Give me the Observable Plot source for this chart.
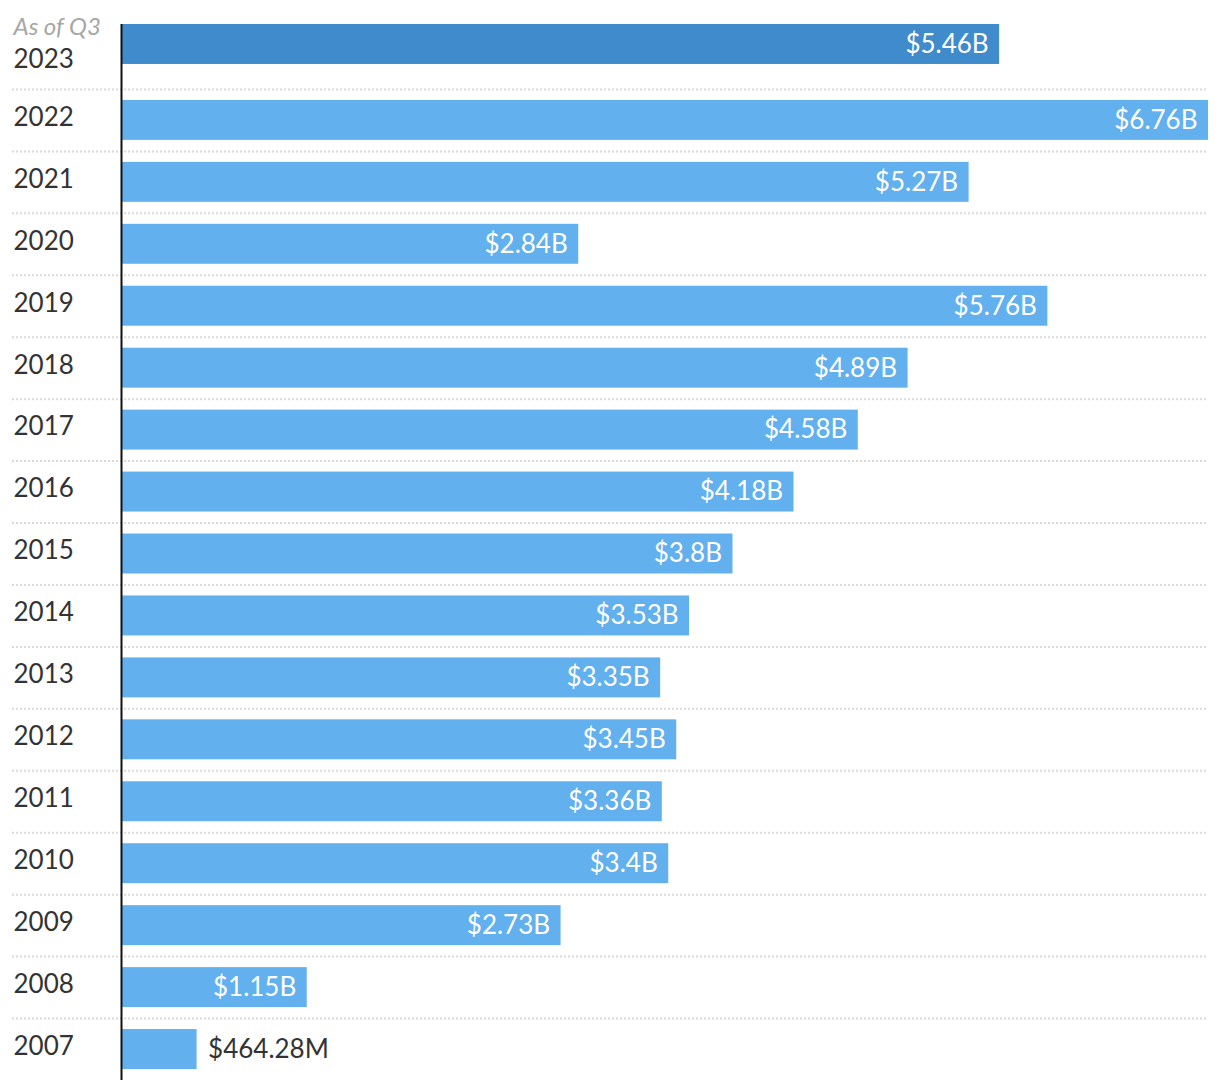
<!DOCTYPE html>
<html>
<head>
<meta charset="utf-8">
<script src="https://cdn.jsdelivr.net/npm/d3@7"></script>
<script src="https://cdn.jsdelivr.net/npm/@observablehq/plot@0.6"></script>
<style>
  html, body { margin: 0; padding: 0; background: #fff; }
  #chart svg { display: block; }
</style>
</head>
<body>
<div id="chart"></div>
<script>
const years = ["2023","2022","2021","2020","2019","2018","2017","2016","2015","2014","2013","2012","2011","2010","2009","2008","2007"];
const values = [5.46, 6.76, 5.27, 2.84, 5.76, 4.89, 4.58, 4.18, 3.8, 3.53, 3.35, 3.45, 3.36, 3.4, 2.73, 1.15, 0.46428];
const labels = ["$5.46B","$6.76B","$5.27B","$2.84B","$5.76B","$4.89B","$4.58B","$4.18B","$3.8B","$3.53B","$3.35B","$3.45B","$3.36B","$3.4B","$2.73B","$1.15B","$464.28M"];
const partialYear = "2023";
const partialNote = "As of Q3";

const data = years.map((y, i) => ({year: y, value: values[i], label: labels[i]}));
const current = data.filter(d => d.year === partialYear);
const past = data.filter(d => d.year !== partialYear);
const pastInside = past.filter(d => d.value >= 1);
const pastOutside = past.filter(d => d.value < 1);

const FONT = "Lato, 'Open Sans', sans-serif";
const step = (1080 - 27) / years.length;

const chart = Plot.plot({
  width: 1220,
  height: 1080,
  marginTop: 27,
  marginBottom: 0,
  marginLeft: 122,
  marginRight: 12,
  style: {fontFamily: FONT, background: "#fff"},
  x: {domain: [0, 6.76], axis: null},
  y: {domain: years, paddingInner: 0.355, paddingOuter: 0.1775, round: false, axis: null},
  marks: [
    // dotted separators between rows
    Plot.ruleY(past, {y: "year", dy: -step / 2, stroke: "#d9d9d9", strokeWidth: 2, strokeDasharray: "2,2", insetLeft: -110}),
    // bars
    Plot.barX(past, {y: "year", x: "value", fill: "#62b0ee"}),
    Plot.barX(current, {y: "year", x: "value", fill: "#3f8bcb", dy: -14}),
    // axis line
    Plot.ruleX([0], {stroke: "#111", strokeWidth: 2, dx: -1, insetTop: -3}),
    // year labels
    Plot.text(past, {y: "year", text: "year", frameAnchor: "left", textAnchor: "start", dx: -109, dy: -3, fontSize: 26, fill: "#333"}),
    Plot.text(current, {y: "year", text: "year", frameAnchor: "left", textAnchor: "start", dx: -109, dy: 1, fontSize: 26, fill: "#333"}),
    Plot.text(current, {y: "year", text: () => partialNote, frameAnchor: "left", textAnchor: "start", dx: -109, dy: -31, fontSize: 24, fontStyle: "italic", fill: "#a6a6a6"}),
    // value labels
    Plot.text(pastInside, {y: "year", x: "value", text: "label", textAnchor: "end", dx: -11, dy: 0, fontSize: 26, fill: "#fff"}),
    Plot.text(current, {y: "year", x: "value", text: "label", textAnchor: "end", dx: -11, dy: -14, fontSize: 26, fill: "#fff"}),
    Plot.text(pastOutside, {y: "year", x: "value", text: "label", textAnchor: "start", dx: 11, dy: 0, fontSize: 26, fill: "#333"})
  ]
});
document.getElementById("chart").append(chart);
</script>
</body>
</html>
